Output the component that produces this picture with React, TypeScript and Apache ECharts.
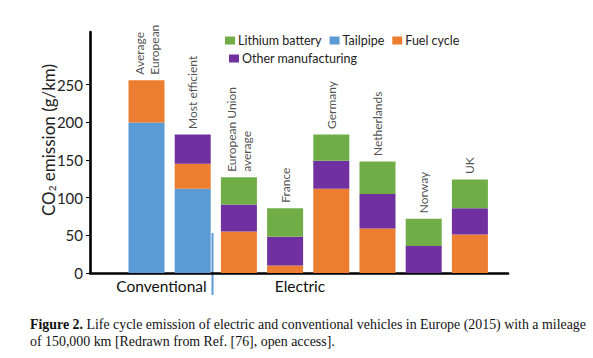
import React, { useEffect, useRef } from "react";
import * as echarts from "echarts";

const categories = [
  "Average\nEuropean",
  "Most efficient",
  "European Union\naverage",
  "France",
  "Germany",
  "Netherlands",
  "Norway",
  "UK",
];
const tailpipe = [200, 112, 0, 0, 0, 0, 0, 0];
const fuelCycle = [56, 33, 55, 10, 112, 59, 0, 51];
const otherManufacturing = [0, 39, 36, 38, 37, 46, 36, 35];
const lithiumBattery = [0, 0, 36, 38, 35, 43, 36, 38];
const yTicks = [0, 50, 100, 150, 200, 250];
const groupLabels = ["Conventional", "Electric"];
const captionBold = "Figure 2.";
const captionLine1 =
  " Life cycle emission of electric and conventional vehicles in Europe (2015) with a mileage";
const captionLine2 = "of 150,000 km [Redrawn from Ref. [76], open access].";

const COLORS = {
  tailpipe: "#5B9BD5",
  fuel: "#ED7D31",
  other: "#7030A0",
  battery: "#70AD47",
};

const FONT = "Lato";
const SERIF = "Liberation Serif";

export default function App() {
  const ref = useRef<HTMLDivElement>(null);

  useEffect(() => {
    if (!ref.current) return;
    const chart = echarts.init(ref.current, null, { renderer: "svg" });
    const totals = categories.map(
      (_, i) => tailpipe[i] + fuelCycle[i] + otherManufacturing[i] + lithiumBattery[i]
    );
    const barCommon = {
      type: "bar" as const,
      stack: "total",
      barWidth: 36,
      xAxisIndex: 0,
      yAxisIndex: 0,
    };
    chart.setOption({
      animation: false,
      backgroundColor: "#ffffff",
      textStyle: { fontFamily: FONT },
      grid: [
        { left: 123.4, right: 100, top: 32, bottom: 85 },
        { left: 90, right: 85, top: 32, bottom: 85 },
      ],
      legend: [
        {
          data: ["Lithium battery", "Tailpipe", "Fuel cycle"],
          left: 220,
          top: 29,
          icon: "rect",
          itemWidth: 10,
          itemHeight: 8,
          itemGap: 8,
          selectedMode: false,
          textStyle: { fontFamily: FONT, fontSize: 12.5, color: "#222", padding: [0, 0, 0, -2] },
        },
        {
          data: ["Other manufacturing"],
          left: 224,
          top: 47,
          icon: "rect",
          itemWidth: 10,
          itemHeight: 8,
          selectedMode: false,
          textStyle: { fontFamily: FONT, fontSize: 12.5, color: "#222", padding: [0, 0, 0, -2] },
        },
      ],
      xAxis: [
        {
          type: "category",
          gridIndex: 0,
          data: categories,
          axisLine: { show: false },
          axisTick: { show: false },
          axisLabel: { show: false },
          splitLine: { show: false },
        },
        {
          type: "value",
          gridIndex: 1,
          min: 0,
          max: 1,
          axisLine: { show: true, lineStyle: { color: "#000", width: 2.6 } },
          axisTick: { show: false },
          axisLabel: { show: false },
          splitLine: { show: false },
        },
      ],
      yAxis: [
        {
          type: "value",
          gridIndex: 0,
          min: 0,
          max: 320,
          show: false,
          splitLine: { show: false },
        },
        {
          type: "value",
          gridIndex: 1,
          min: 0,
          max: 320,
          interval: 50,
          axisLine: { show: true, lineStyle: { color: "#000", width: 2.6 } },
          axisTick: {
            show: true,
            length: 4,
            customValues: yTicks,
            lineStyle: { color: "#000", width: 1 },
          },
          axisLabel: {
            customValues: yTicks,
            fontFamily: FONT,
            fontSize: 15,
            color: "#222",
            margin: 7,
          },
          splitLine: { show: false },
        },
      ],
      series: [
        { ...barCommon, name: "Tailpipe", data: tailpipe, itemStyle: { color: COLORS.tailpipe } },
        { ...barCommon, name: "Fuel cycle", data: fuelCycle, itemStyle: { color: COLORS.fuel } },
        {
          ...barCommon,
          name: "Other manufacturing",
          data: otherManufacturing,
          itemStyle: { color: COLORS.other },
        },
        {
          ...barCommon,
          name: "Lithium battery",
          data: lithiumBattery,
          itemStyle: { color: COLORS.battery },
        },
        {
          type: "scatter",
          name: "labels",
          xAxisIndex: 0,
          yAxisIndex: 0,
          data: totals,
          symbolSize: 1,
          itemStyle: { color: "rgba(0,0,0,0)" },
          silent: true,
          label: {
            show: true,
            position: "top",
            distance: 5,
            rotate: 90,
            align: "left",
            verticalAlign: "middle",
            fontFamily: FONT,
            fontSize: 12,
            lineHeight: 15,
            color: "#222",
            formatter: (p: any) => categories[p.dataIndex],
          },
        },
      ],
      graphic: [
        {
          type: "text",
          x: 47,
          y: 140,
          rotation: Math.PI / 2,
          style: {
            text: "{a|CO}{s|2}{a| emission (g/km)}",
            align: "center",
            verticalAlign: "middle",
            fill: "#222",
            rich: {
              a: { fontFamily: FONT, fontSize: 17, fill: "#222", verticalAlign: "bottom", lineHeight: 20 },
              s: { fontFamily: FONT, fontSize: 10, fill: "#222", verticalAlign: "bottom", lineHeight: 15 },
            },
          },
        },
        {
          type: "text",
          x: 161.5,
          y: 286,
          style: {
            text: groupLabels[0],
            align: "center",
            verticalAlign: "middle",
            fontFamily: FONT,
            fontSize: 15.5,
            fill: "#111",
          },
        },
        {
          type: "text",
          x: 300,
          y: 286,
          style: {
            text: groupLabels[1],
            align: "center",
            verticalAlign: "middle",
            fontFamily: FONT,
            fontSize: 15.5,
            fill: "#111",
          },
        },
        {
          type: "line",
          shape: { x1: 212.5, y1: 233, x2: 212.5, y2: 295 },
          style: { stroke: "#5B9BD5", lineWidth: 2 },
        },
        {
          type: "text",
          x: 30,
          y: 324,
          style: {
            text: "{b|" + captionBold + "}{n|" + captionLine1 + "}",
            verticalAlign: "middle",
            rich: {
              b: { fontFamily: SERIF, fontSize: 13.9, fontWeight: "bold", fill: "#111" },
              n: { fontFamily: SERIF, fontSize: 13.9, fill: "#111" },
            },
          },
        },
        {
          type: "text",
          x: 30,
          y: 341,
          style: {
            text: captionLine2,
            verticalAlign: "middle",
            fontFamily: SERIF,
            fontSize: 13.9,
            fill: "#111",
          },
        },
      ],
    });
    return () => chart.dispose();
  }, []);

  return (
    <div
      ref={ref}
      style={{ position: "absolute", left: 0, top: 0, width: 593, height: 358, background: "#fff" }}
    />
  );
}
